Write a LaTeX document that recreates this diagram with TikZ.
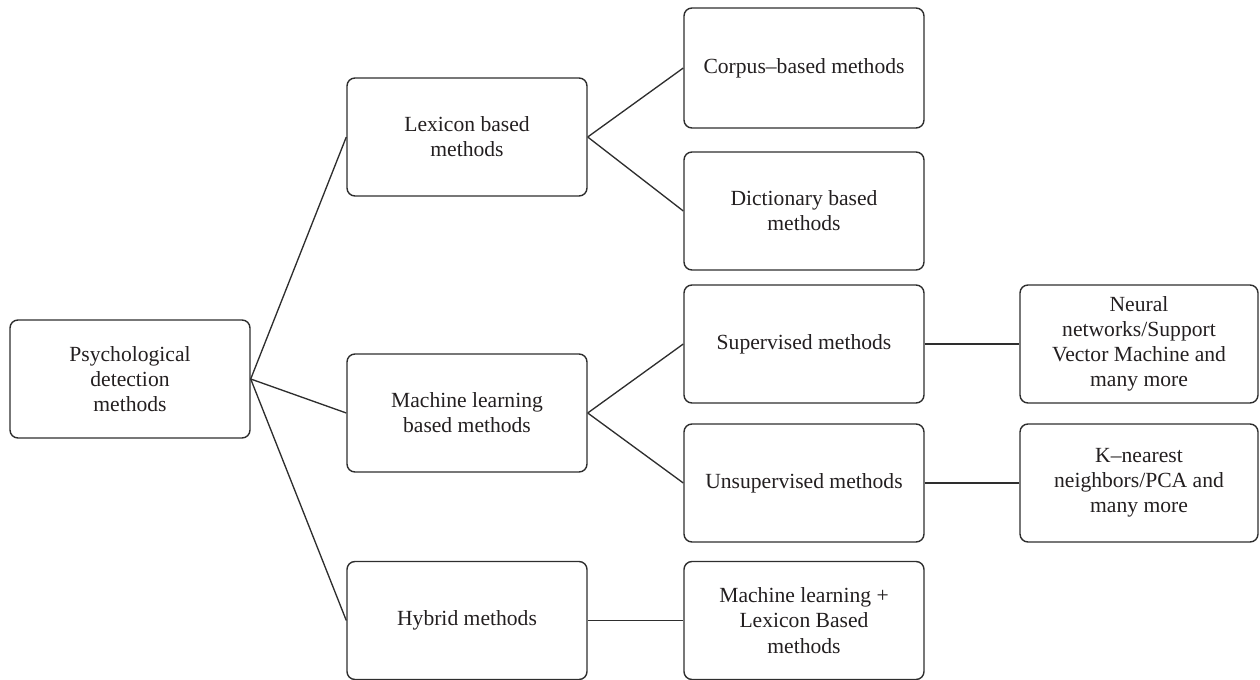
\documentclass[tikz,border=0pt]{standalone}
\usepackage{fontspec}
\setmainfont{Liberation Serif}
\definecolor{boxline}{HTML}{2E2E2E}
\definecolor{txt}{HTML}{231F20}
\begin{document}
\begin{tikzpicture}[x=0.75pt,y=-0.75pt,
  box/.style={draw=boxline, line width=1.05pt, rounded corners=6pt, minimum width=180pt, minimum height=88.5pt, align=center, text=txt, font=\fontsize{16.2pt}{18.9pt}\selectfont, inner sep=0pt},
  link/.style={draw=boxline, line width=1pt}]
\useasboundingbox (0,0) rectangle (1260,680);
\node[box] (psych) at (130,379) {Psychological\\detection\\methods};
\node[box] (lex) at (467,137) {Lexicon based\\methods};
\node[box] (ml) at (467,413) {Machine learning\\based methods};
\node[box] (hyb) at (467,620.5) {Hybrid methods};
\node[box, minimum height=90pt] (corpus) at (804,68) {Corpus–based methods};
\node[box] (dict) at (804,211) {Dictionary based\\methods};
\node[box] (sup) at (804,344) {Supervised methods};
\node[box] (unsup) at (804,483) {Unsupervised methods};
\node[box] (mllex) at (804,620.5) {Machine learning +\\Lexicon Based\\methods};
\node[box, minimum width=178.5pt] (neural) at (1139,344) {Neural\\networks/Support\\Vector Machine and\\many more};
\node[box, minimum width=178.5pt] (knn) at (1139,483) {K–nearest\\neighbors/PCA and\\many more};
\draw[link] (psych.east) -- (lex.west);
\draw[link] (psych.east) -- (ml.west);
\draw[link] (psych.east) -- (hyb.west);
\draw[link] (lex.east) -- (corpus.west);
\draw[link] (lex.east) -- (dict.west);
\draw[link] (ml.east) -- (sup.west);
\draw[link] (ml.east) -- (unsup.west);
\draw[link] (hyb.east) -- (mllex.west);
\draw[link] (sup.east) -- (neural.west);
\draw[link] (unsup.east) -- (knn.west);
\end{tikzpicture}
\end{document}
